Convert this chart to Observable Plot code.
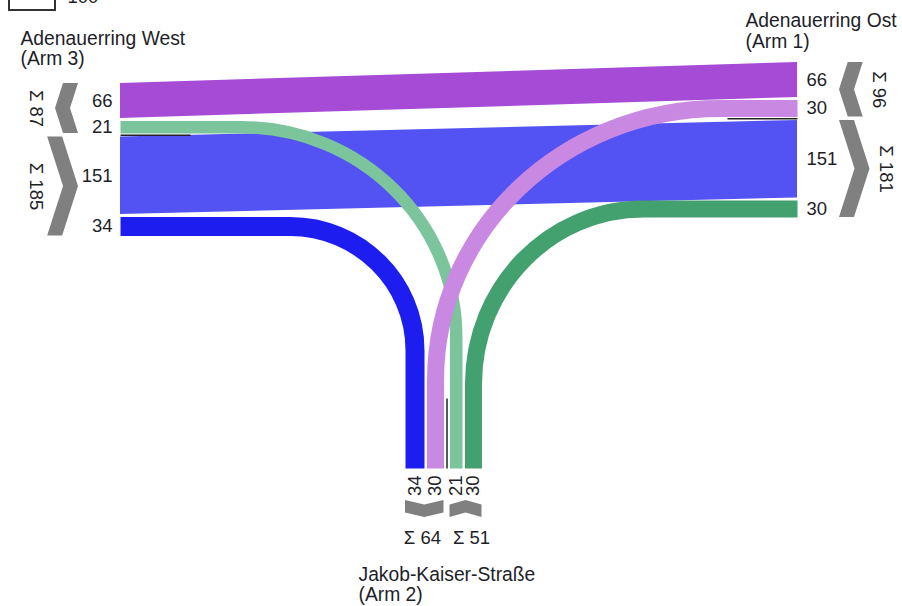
<!DOCTYPE html>
<html>
<head>
<meta charset="utf-8">
<script src="https://cdn.jsdelivr.net/npm/d3@7"></script>
<script src="https://cdn.jsdelivr.net/npm/@observablehq/plot@0.6"></script>
<style>
  html, body { margin: 0; padding: 0; background: #ffffff; }
  #chart { width: 902px; height: 606px; overflow: hidden; }
</style>
</head>
<body>
<div id="chart"></div>
<script>
// ---------------- DATA ----------------
const armIds     = [1, 2, 3];
const armNames   = ["Adenauerring Ost", "Jakob-Kaiser-Straße", "Adenauerring West"];
const armLabels  = ["(Arm 1)", "(Arm 2)", "(Arm 3)"];
const flowFrom   = [1, 3, 1, 3, 2, 2];
const flowTo     = [3, 1, 2, 2, 3, 1];
const flowValue  = [66, 151, 30, 34, 21, 30];
const legendValue = 100;

// ---------------- STYLE / LAYOUT ----------------
const flowColor = {"1-3": "#a64bd5", "3-1": "#5353f3", "1-2": "#c988e2", "3-2": "#1d1df0", "2-3": "#7cc49c", "2-1": "#43a06f"};
const pxPerVehicle = 0.5, baseWidth = 2;
const bandWidth = v => baseWidth + v * pxPerVehicle;
const textColor = "#1e1e28";
const chevronColor = "#808080";
const font = "Arial, 'Liberation Sans', sans-serif";
const numSize = 18.5, titleSize = 19.3;

const key = i => `${flowFrom[i]}-${flowTo[i]}`;
const val = k => flowValue[flowFrom.findIndex((f, i) => key(i) === k)];

// band order at each arm (groups of flows)
const westLayout  = {pos: 120, start: 83,  gap: 2.5, groupGap: 3.5, groups: [["1-3", "2-3"], ["3-1", "3-2"]], dirs: ["<", ">"]};
const eastLayout  = {pos: 797, start: 62,  gap: 2.5, groupGap: 3.5, groups: [["1-3", "1-2"], ["3-1", "2-1"]], dirs: ["<", ">"]};
const southLayout = {pos: 468, start: 405, gap: 2.5, groupGap: 6,   groups: [["3-2", "1-2"], ["2-3", "2-1"]], dirs: ["v", "^"]};
const turnRadius = {"3-2": [125, 124], "2-3": [215, 210], "1-2": [285, 272], "2-1": [170, 175]};
const dividerLength = 70;

function stack(layout) {
  const slots = {}, groups = [];
  let p = layout.start;
  layout.groups.forEach((g, gi) => {
    g.forEach((k, i) => {
      if (gi || i) p += i === 0 ? layout.groupGap : layout.gap;
      const w = bandWidth(val(k));
      slots[k] = {a: p, b: p + w, c: p + w / 2, value: val(k)};
      p += w;
    });
    const a = slots[g[0]].a, b = slots[g[g.length - 1]].b;
    groups.push({a, b, mid: (a + b) / 2, sum: d3.sum(g, val), dir: layout.dirs[gi]});
  });
  return {slots, groups};
}
const west = stack(westLayout), east = stack(eastLayout), south = stack(southLayout);

// straight flows (west <-> east) as areas
const straightKeys = ["3-1", "1-3"];
const straightData = straightKeys.flatMap(k => [
  {k, x: westLayout.pos, y1: west.slots[k].a, y2: west.slots[k].b},
  {k, x: eastLayout.pos, y1: east.slots[k].a, y2: east.slots[k].b}
]);

// turning flows as lines with a quarter turn
const turnKeys = ["3-2", "2-3", "2-1", "1-2"];
function turnPoints(k) {
  const isWest = k.includes("3");
  const arm = isWest ? west : east;
  const armX = isWest ? westLayout.pos : eastLayout.pos;
  const cy = arm.slots[k].c, cx = south.slots[k].c;
  const [rx, ry] = turnRadius[k];
  const sx = isWest ? cx - rx : cx + rx;
  return [
    {k, x: armX, y: cy},
    {k, x: sx, y: cy},
    {k, x: cx, y: cy + ry},
    {k, x: cx, y: southLayout.pos}
  ];
}
function quarterTurn(context) {
  let pts = [];
  return {
    areaStart() {}, areaEnd() {},
    lineStart() { pts = []; },
    point(x, y) { pts.push([+x, +y]); },
    lineEnd() {
      if (pts.length < 4) return;
      const [p0, p1, p2, p3] = pts, K = 0.5523;
      context.moveTo(p0[0], p0[1]);
      context.lineTo(p1[0], p1[1]);
      context.bezierCurveTo(p1[0] + K * (p2[0] - p1[0]), p1[1], p2[0], p2[1] - K * (p2[1] - p1[1]), p2[0], p2[1]);
      context.lineTo(p3[0], p3[1]);
    }
  };
}

// chevrons
const chevT = 15, chevRel = 0.16;
const westRef = 78, eastRef = 839;
const chevLR = [];
west.groups.forEach((g, i) => {
  const d = chevRel * (g.b - g.a);
  const base = g.dir === "<" ? [westRef - chevT, westRef, westRef - chevT - d, westRef - d] : [westRef - chevT - d, westRef - d, westRef - chevT, westRef];
  chevLR.push({id: "w" + i, y: g.a, x1: base[0], x2: base[1]}, {id: "w" + i, y: g.mid, x1: base[2], x2: base[3]}, {id: "w" + i, y: g.b, x1: base[0], x2: base[1]});
  g.textX = 35;
});
east.groups.forEach((g, i) => {
  const d = chevRel * (g.b - g.a);
  const base = g.dir === "<" ? [eastRef + d, eastRef + d + chevT, eastRef, eastRef + chevT] : [eastRef, eastRef + chevT, eastRef + d, eastRef + d + chevT];
  chevLR.push({id: "e" + i, y: g.a, x1: base[0], x2: base[1]}, {id: "e" + i, y: g.mid, x1: base[2], x2: base[3]}, {id: "e" + i, y: g.b, x1: base[0], x2: base[1]});
  g.textX = Math.max(base[1], base[3]) + 16;
});
const chevTop = 500, chevTS = 12.5, chevDS = 4.5;
const chevUD = [];
south.groups.forEach((g, i) => {
  const ends = g.dir === "v" ? chevTop : chevTop + chevDS;
  const midY = g.dir === "v" ? chevTop + chevDS : chevTop;
  chevUD.push({id: "s" + i, x: g.a, y1: ends, y2: ends + chevTS}, {id: "s" + i, x: g.mid, y1: midY, y2: midY + chevTS}, {id: "s" + i, x: g.b, y1: ends, y2: ends + chevTS});
});

// dividers between in/out groups
const dividers = [
  {x1: westLayout.pos, x2: westLayout.pos + dividerLength, y1: (west.groups[0].b + west.groups[1].a) / 2, y2: (west.groups[0].b + west.groups[1].a) / 2},
  {x1: eastLayout.pos - dividerLength, x2: eastLayout.pos, y1: (east.groups[0].b + east.groups[1].a) / 2, y2: (east.groups[0].b + east.groups[1].a) / 2},
  {x1: (south.groups[0].b + south.groups[1].a) / 2, x2: (south.groups[0].b + south.groups[1].a) / 2, y1: southLayout.pos - dividerLength, y2: southLayout.pos}
];

// labels
const westNums  = Object.values(west.slots);
const eastNums  = Object.values(east.slots);
const southNums = Object.values(south.slots);
const armTitles = [
  {t: armNames[2], x: 20, y: 38}, {t: armLabels[2], x: 20, y: 58},
  {t: armNames[0], x: 745, y: 20}, {t: armLabels[0], x: 745, y: 41},
  {t: armNames[1], x: 358, y: 574}, {t: armLabels[1], x: 358, y: 594}
];
const legendBox = [{x1: 9, x2: 55, y1: 10 - bandWidth(legendValue), y2: 10}];

const lineMarks = turnKeys.map(k => Plot.line(turnPoints(k), {
  x: "x", y: "y", stroke: flowColor[k], strokeWidth: bandWidth(val(k)),
  curve: quarterTurn, strokeLinecap: "butt", strokeLinejoin: "miter"
}));

const chart = Plot.plot({
  width: 902, height: 606, margin: 0,
  x: {domain: [0, 902], range: [0, 902]},
  y: {domain: [0, 606], range: [0, 606]},
  axis: null,
  style: {fontFamily: font, background: "#ffffff", overflow: "hidden"},
  marks: [
    Plot.areaY(straightData, {x: "x", y1: "y1", y2: "y2", z: "k", fill: d => flowColor[d.k], curve: "linear"}),
    ...lineMarks,
    Plot.link(dividers, {x1: "x1", y1: "y1", x2: "x2", y2: "y2", stroke: "#222", strokeWidth: 1.5}),
    Plot.areaX(chevLR, {y: "y", x1: "x1", x2: "x2", z: "id", fill: chevronColor, curve: "linear"}),
    Plot.areaY(chevUD, {x: "x", y1: "y1", y2: "y2", z: "id", fill: chevronColor, curve: "linear"}),
    Plot.text(westNums, {x: westLayout.pos - 8, y: "c", text: "value", textAnchor: "end", fontSize: numSize, fill: textColor}),
    Plot.text(eastNums, {x: eastLayout.pos + 9, y: "c", text: "value", textAnchor: "start", fontSize: numSize, fill: textColor}),
    Plot.text(southNums, {x: "c", y: southLayout.pos + 7, text: "value", rotate: -90, textAnchor: "end", fontSize: numSize, fill: textColor}),
    Plot.text(west.groups, {x: "textX", y: "mid", text: d => `Σ ${d.sum}`, rotate: 90, fontSize: numSize, fill: textColor}),
    Plot.text(east.groups, {x: "textX", y: "mid", text: d => `Σ ${d.sum}`, rotate: 90, fontSize: numSize, fill: textColor}),
    Plot.text([south.groups[0]], {x: d => d.b - 3, y: 538, text: d => `Σ ${d.sum}`, textAnchor: "end", fontSize: numSize, fill: textColor}),
    Plot.text([south.groups[1]], {x: d => d.a + 3, y: 538, text: d => `Σ ${d.sum}`, textAnchor: "start", fontSize: numSize, fill: textColor}),
    Plot.text(armTitles, {x: "x", y: "y", text: "t", textAnchor: "start", fontSize: titleSize, fill: textColor}),
    Plot.rect(legendBox, {x1: "x1", x2: "x2", y1: "y1", y2: "y2", fill: "none", stroke: "#333", strokeWidth: 2}),
    Plot.text([legendValue], {x: 67, y: -3, text: d => d, textAnchor: "start", fontSize: numSize, fill: textColor})
  ]
});
document.getElementById("chart").appendChild(chart);
</script>
</body>
</html>
